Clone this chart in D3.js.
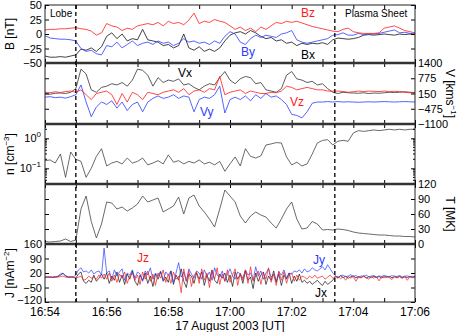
<!DOCTYPE html>
<html><head><meta charset="utf-8">
<script src="https://cdn.jsdelivr.net/npm/d3@7"></script>
<style>
body{margin:0;background:#fff}
svg{display:block;font-family:"Liberation Sans",Arial,Helvetica,sans-serif}
</style>
</head><body>
<svg id="c" width="463" height="332"></svg>
<script>
// ---------- DATA ----------
const timeTickLabels = ["16:54","16:56","16:58","17:00","17:02","17:04","17:06"];
const boundaryTimes = ["16:55:00","17:03:24"];
const regionLabels = ["Lobe","Plasma Sheet"];
const xTitle = "17 August 2003 [UT]";
const slowStepSec = 10;   // B, V, n, T sampling
const jStepSec = 5;       // J sampling

const bTicks = [-50,-25,0,25,50];
const vTicks = [-1100,-475,150,775,1400];
const nTicks = [0.1,1];
const tTicks = [0,30,60,90,120];
const jTicks = [-120,-50,20,90,160];

const bx = [-38,-40,-40,-39,-40,-38,
 -36,-26,-28,-24,-30,-22,-4,2,-8,0,-12,-8,-10,8,-10,
 -12,-14,-20,-18,-24,-20,0,-24,-28,-22,-30,-26,-30,-24,-12,
 -2,2,4,0,6,2,-4,-8,-6,-12,-10,-16,-14,-20,
 -16,-18,-16,-17,-15,-18,-10,-7,-8,-9,-8,-6,-2,-1,-2,-1,0,-1,-2,0,-1,0,-1];
const by = [-3,-7,-8,-9,-9,-10,
 -12,-25,-30,-28,-34,-36,-20,-22,-14,-24,-18,-12,-20,-16,-14,
 -18,-12,-16,-14,-20,-16,-8,-14,-12,-16,-14,-18,-12,-16,-4,
 4,0,-14,-18,-8,-2,-6,-2,-4,-6,0,2,6,-10,
 -14,-16,-14,-12,-10,-8,-2,-1,2,-2,-2,1,-1,0,0,1,3,5,7,2,3,1,1];
const bz = [7,8,8,9,9,10,
 11,9,8,5,-2,2,18,14,12,6,10,8,14,16,18,
 16,20,14,22,18,20,16,24,36,18,22,20,25,22,20,
 14,8,12,6,10,4,12,8,14,20,18,22,20,22,
 19,16,13,11,9,7,5,4,8,10,4,2,1,1,1,2,10,12,14,10,6,4,2];

const vx = [150,120,160,170,150,200,
 350,1150,950,300,200,400,450,550,500,600,450,700,1150,1100,900,
 450,800,600,700,650,750,500,550,400,300,450,550,500,800,1050,
 700,550,750,850,800,550,600,300,250,200,350,900,1050,750,
 700,600,650,500,550,350,200,150,200,180,170,160,180,150,170,160,180,200,190,200,220,200,190];
const vy = [0,20,-20,0,-40,20,
 100,500,-200,-800,-400,-200,-300,-150,-450,-200,-550,-300,-200,-600,-200,
 -50,50,-50,0,100,-50,50,0,-600,-100,0,-50,100,450,-650,
 -100,0,-100,50,-150,100,-50,150,0,50,-100,-300,-700,-750,
 -850,-600,-250,-200,-200,-180,-200,-180,-200,-190,-200,-210,-200,-190,-200,-190,-180,-190,-200,-190,-180,-190,-200];
const vz = [200,180,220,190,230,250,
 200,300,100,-100,150,200,250,100,-300,150,-200,200,100,-100,200,
 150,100,200,250,300,200,350,100,250,300,200,350,300,850,100,
 200,250,300,150,250,200,150,150,200,180,250,450,400,300,
 350,400,350,300,300,250,250,250,230,200,220,250,230,250,240,230,250,230,240,230,200,180,170];

const nDens = [0.18,0.19,0.15,0.3,0.05,0.35,0.2,0.17,0.05,0.1,
 0.25,0.45,0.12,0.15,0.17,0.14,0.22,0.15,0.17,0.22,
 0.13,0.15,0.18,0.14,0.28,0.16,0.18,0.14,0.17,0.15,
 0.19,0.14,0.16,0.13,0.17,0.08,0.14,0.24,0.12,0.45,
 0.25,0.22,0.26,0.6,0.65,0.72,0.7,0.24,0.13,0.16,
 0.12,0.14,0.3,0.7,0.85,0.9,0.6,0.8,0.85,0.8,
 1.5,1.8,1.7,1.8,1.9,1.8,1.9,2.0,1.9,2.0,1.9,2.0,2.0];

const temp = [5,4,5,6,10,5,
 8,70,96,45,12,40,84,82,70,74,66,72,80,96,84,
 88,92,64,70,76,94,60,92,98,76,64,50,34,70,108,
 96,84,56,42,56,64,58,54,42,32,50,70,84,50,
 30,32,45,40,28,29,28,30,29,27,24,22,21,20,19,18,18,17,16,16,15,15,14];

const jx = [0,1,0,-1,0,2,10,18,5,0,1,0,
 -5,15,25,-20,-30,-15,-25,10,-20,-5,15,-10,
 20,-30,5,-15,25,-25,10,-35,15,-10,30,-20,
 -40,10,-15,20,-30,5,-45,15,-10,25,-20,0,
 -25,30,-35,10,-15,40,-20,-50,15,5,-30,20,
 -10,25,-40,10,-20,35,-15,-30,15,-5,20,-25,
 10,-45,25,-10,15,-30,30,-15,0,-55,20,-20,
 10,25,-35,5,-15,30,-25,15,-40,10,-10,20,
 -30,5,-20,15,-25,-15,-30,-20,-35,-25,-15,-30,
 -40,-20,-35,-25,-15,
 5,-5,8,-3,4,-6,2,6,-4,3,-2,5,-5,2,-3,4,-2,3,-4,2,-1,3,-3,2,-2,4,-3,1,-2,3,-1,2];
const jy = [0,0,1,0,2,5,15,20,8,2,0,1,
 10,35,45,25,30,20,35,15,25,30,10,140,
 20,30,-10,35,5,25,40,-15,20,10,35,-5,
 25,15,-20,30,10,45,-10,20,5,30,-15,25,
 10,30,-25,20,70,0,25,-20,40,15,-5,30,
 20,-10,35,5,25,-15,45,10,0,30,-20,15,
 40,5,-10,25,15,-5,35,10,20,-15,50,5,
 30,-10,20,40,0,15,-20,25,10,35,-5,20,
 15,30,25,35,20,40,25,30,45,35,30,40,
 50,35,60,40,20,
 8,-2,6,10,2,5,12,3,8,-3,6,4,10,2,5,8,0,6,3,9,4,2,7,5,3,8,1,5,6,2,4,3];
const jz = [0,0,-1,0,1,0,3,5,0,-1,0,0,
 -5,0,5,-15,-10,5,-5,0,-10,10,-5,15,
 -10,20,-20,10,-25,15,-5,25,-30,5,20,-15,
 10,-35,25,-10,30,-20,15,-40,20,-5,35,-25,
 15,-30,25,-10,5,-75,40,-20,30,-45,10,25,
 -30,40,-15,20,-50,30,-10,45,-35,15,-20,35,
 -25,10,40,-40,20,-15,35,-30,50,-20,10,30,
 -35,20,-10,45,-25,15,-40,30,-15,25,-30,10,
 20,-20,10,-15,5,0,-10,5,-5,10,-5,0,
 5,-10,0,10,-5,
 -3,5,-8,2,-15,4,-5,3,-20,2,-4,6,-2,-10,3,-5,2,-18,4,-3,5,-2,-12,3,-4,2,-6,3,-15,2,-3,1];

// ---------- DRAW ----------
const svg = d3.select("#c");
const X0 = 45, X1 = 415;
const day = "2003-08-17T";
const parseT = s => new Date(day + (s.length===5 ? s+":00" : s) + "Z");
const tStart = parseT(timeTickLabels[0]);
const tEnd = parseT(timeTickLabels[timeTickLabels.length-1]);
const x = d3.scaleUtc().domain([tStart, tEnd]).range([X0, X1]);
const tAt = (step) => (_, i) => new Date(+tStart + i*step*1000);

const BLACK = "#111", BLUE = "#2a3cff", RED = "#ff1a1a", GRAY = "#444";
const FS = 11;

const panels = [
  {top:5, bot:63, y:d3.scaleLinear().domain([-50,50]), ticks:bTicks, side:"left",
   series:[[bx,BLACK],[by,BLUE],[bz,RED]], step:slowStepSec, label:["B [nT]"], sw:0.8},
  {top:63, bot:124, y:d3.scaleLinear().domain([-1100,1400]), ticks:vTicks, side:"right",
   series:[[vx,"#333"],[vy,BLUE],[vz,RED]], step:slowStepSec, label:["V [kms","−1","]"], sw:0.8},
  {top:124, bot:184, y:d3.scaleLog().domain([0.03,3]), ticks:nTicks, side:"left", log:true,
   series:[[nDens,GRAY]], step:slowStepSec, label:["n [cm","−3","]"], sw:0.8},
  {top:184, bot:244, y:d3.scaleLinear().domain([0,120]), ticks:tTicks, side:"right",
   series:[[temp,GRAY]], step:slowStepSec, label:["T [MK]"], sw:0.8},
  {top:244, bot:302, y:d3.scaleLinear().domain([-120,160]), ticks:jTicks, side:"left",
   series:[[jx,BLACK],[jy,BLUE],[jz,RED]], step:jStepSec, label:["J [nAm","−2","]"], sw:0.7}
];

const defs = svg.append("defs");
const fmt = d3.format("d");

panels.forEach((p, k) => {
  p.y.range([p.bot, p.top]);
  defs.append("clipPath").attr("id","clip"+k).append("rect")
    .attr("x",X0).attr("y",p.top).attr("width",X1-X0).attr("height",p.bot-p.top);
  const g = svg.append("g").attr("clip-path",`url(#clip${k})`);
  p.series.forEach(([vals,col]) => {
    const times = vals.map(tAt(p.step));
    const line = d3.line().x((d,i)=>x(times[i])).y(d=>p.y(d));
    g.append("path").datum(vals).attr("d",line)
      .attr("fill","none").attr("stroke",col).attr("stroke-width",p.sw)
      .attr("stroke-linejoin","round");
  });

  const xb = d3.axisBottom(x).ticks(d3.utcMinute.every(1)).tickSize(-4).tickFormat("");
  const xt = d3.axisTop(x).ticks(d3.utcMinute.every(1)).tickSize(-4).tickFormat("");
  svg.append("g").attr("transform",`translate(0,${p.bot})`).call(xb).call(s=>s.select(".domain").remove());
  svg.append("g").attr("transform",`translate(0,${p.top})`).call(xt).call(s=>s.select(".domain").remove());

  const tf = p.log ? () => "" : fmt;
  const left = d3.axisLeft(p.y).tickValues(p.ticks).tickSize(-4).tickPadding(3)
    .tickFormat(p.side==="left" ? tf : () => "");
  const right = d3.axisRight(p.y).tickValues(p.ticks).tickSize(-4).tickPadding(3)
    .tickFormat(p.side==="right" ? tf : () => "");
  const gl = svg.append("g").attr("transform",`translate(${X0},0)`).call(left);
  const gr = svg.append("g").attr("transform",`translate(${X1},0)`).call(right);
  [gl,gr].forEach(a=>{a.select(".domain").remove(); a.selectAll("text").attr("font-size",FS).attr("font-family",null).attr("fill","#000");});
  // keep the lowest J label clear of the time labels below it
  if (k === 4) gl.selectAll(".tick text").filter(d => d === jTicks[0]).attr("dy","0.1em");

  if (p.log) {
    const minor = [];
    [0.01,0.1,1].forEach(dec => d3.range(2,10).forEach(m => {const v=m*dec; if(v>=0.03 && v<=3) minor.push(v);}));
    svg.append("g").selectAll("line").data(minor).join("line")
      .attr("x1",X0).attr("x2",X0+2).attr("y1",d=>p.y(d)).attr("y2",d=>p.y(d)).attr("stroke","#000");
    svg.append("g").selectAll("line").data(minor).join("line")
      .attr("x1",X1).attr("x2",X1-2).attr("y1",d=>p.y(d)).attr("y2",d=>p.y(d)).attr("stroke","#000");
    p.ticks.forEach(v => {
      const e = Math.round(Math.log10(v));
      const t = svg.append("text").attr("x",X0-4).attr("y",p.y(v)+4)
        .attr("text-anchor","end").attr("font-size",FS);
      t.append("tspan").text("10");
      t.append("tspan").attr("dy",-5).attr("font-size",8).text(e<0 ? "−"+(-e) : String(e));
    });
  }

  const lx = p.side==="left" ? 10 : 450;
  const ly = (p.top+p.bot)/2;
  const rot = p.side==="left" ? -90 : 90;
  const lt = svg.append("text").attr("transform",`translate(${lx},${ly}) rotate(${rot})`)
    .attr("text-anchor","middle").attr("dy",4).attr("font-size",12);
  lt.append("tspan").text(p.label[0]);
  if (p.label.length>1) {
    lt.append("tspan").attr("dy",-5).attr("font-size",8).text(p.label[1]);
    lt.append("tspan").attr("dy",5).text(p.label[2]);
  }
});

svg.append("rect").attr("x",X0).attr("y",panels[0].top).attr("width",X1-X0)
  .attr("height",panels[4].bot-panels[0].top).attr("fill","none").attr("stroke","#222").attr("stroke-width",1);
panels.slice(1).forEach(p=>{
  svg.append("line").attr("x1",X0).attr("x2",X1).attr("y1",p.top).attr("y2",p.top)
    .attr("stroke","#333").attr("stroke-width",2.5);
});

svg.append("g").selectAll("line").data(boundaryTimes).join("line")
  .attr("x1",d=>x(parseT(d))).attr("x2",d=>x(parseT(d)))
  .attr("y1",panels[0].top).attr("y2",panels[4].bot)
  .attr("stroke","#000").attr("stroke-width",1.3).attr("stroke-dasharray","4,3");

svg.append("g").selectAll("text").data(timeTickLabels).join("text")
  .attr("x",d=>x(parseT(d))).attr("y",316).attr("text-anchor","middle").attr("font-size",FS+1).text(d=>d);
svg.append("text").attr("x",(X0+X1)/2).attr("y",329.5).attr("text-anchor","middle").attr("font-size",FS+1).text(xTitle);

const ann = [
  {t:regionLabels[0], x:50, y:17, c:"#000", fs:10},
  {t:regionLabels[1], x:345, y:17, c:"#000", fs:10},
  {t:"Bz", x:301, y:17, c:RED, fs:12},
  {t:"By", x:241, y:56, c:BLUE, fs:12},
  {t:"Bx", x:301, y:59, c:"#000", fs:12},
  {t:"Vx", x:178, y:77, c:"#000", fs:12},
  {t:"Vy", x:200, y:116, c:BLUE, fs:12},
  {t:"Vz", x:290, y:106, c:RED, fs:12},
  {t:"Jz", x:137, y:262, c:RED, fs:12},
  {t:"Jy", x:313, y:264, c:BLUE, fs:12},
  {t:"Jx", x:315, y:297, c:"#000", fs:12}
];
svg.append("g").selectAll("text").data(ann).join("text")
  .attr("x",d=>d.x).attr("y",d=>d.y).attr("fill",d=>d.c).attr("font-size",d=>d.fs).text(d=>d.t);
</script>
</body></html>
